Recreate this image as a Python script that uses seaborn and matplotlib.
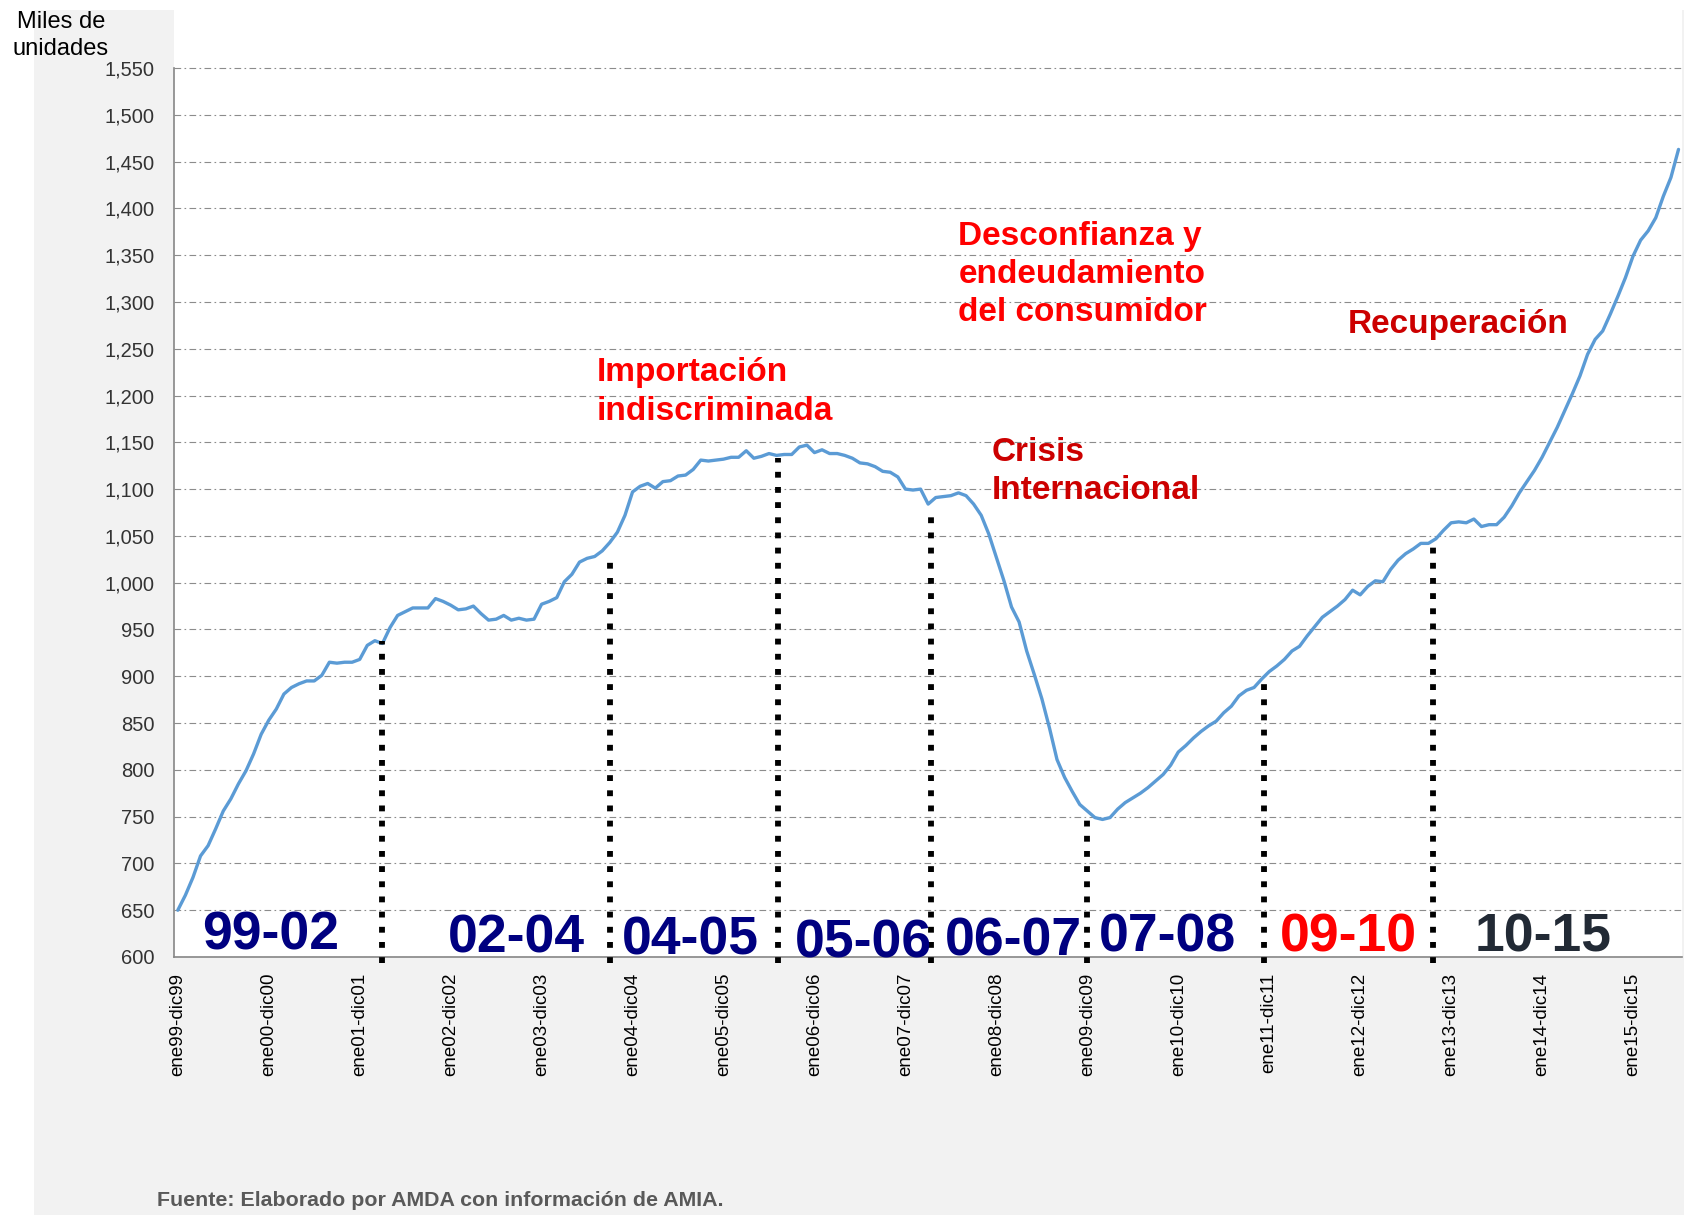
import matplotlib
matplotlib.use('Agg')
import matplotlib.pyplot as plt
import seaborn as sns
import pandas as pd
import numpy as np
from matplotlib.patches import Rectangle

# ventas anualizadas (miles de unidades), ventana movil de 12 meses
valores = [650, 666, 685, 708, 719, 737, 756, 769, 785, 799, 817, 838,
           853, 865, 881, 888, 892, 895, 895, 901, 915, 914, 915, 915,
           918, 933, 938, 935, 952, 965, 969, 973, 973, 973, 983, 980,
           976, 971, 972, 975, 967, 960, 961, 965, 960, 962, 960, 961,
           977, 980, 984, 1001, 1009, 1022, 1026, 1028, 1034, 1043, 1054, 1072,
           1097, 1103, 1106, 1101, 1108, 1109, 1114, 1115, 1121, 1131, 1130, 1131,
           1132, 1134, 1134, 1141, 1133, 1135, 1138, 1136, 1137, 1137, 1145, 1147,
           1139, 1142, 1138, 1138, 1136, 1133, 1128, 1127, 1124, 1119, 1118, 1113,
           1100, 1099, 1100, 1084, 1091, 1092, 1093, 1096, 1093, 1084, 1072, 1052,
           1027, 1002, 974, 958, 927, 902, 876, 845, 811, 792, 777, 763,
           756, 749, 747, 749, 758, 765, 770, 775, 781, 788, 795, 805,
           819, 826, 834, 841, 847, 852, 861, 868, 879, 885, 888, 897,
           905, 911, 918, 927, 932, 943, 953, 963, 969, 975, 982, 992,
           987, 996, 1002, 1001, 1014, 1024, 1031, 1036, 1042, 1042, 1047, 1056,
           1064, 1065, 1064, 1068, 1060, 1062, 1062, 1070, 1082, 1096, 1108, 1120,
           1134, 1150, 1166, 1184, 1202, 1221, 1244, 1260, 1269, 1287, 1306, 1326,
           1349, 1366, 1376, 1390, 1413, 1433, 1463]

etiquetas_x = ['ene99-dic99', 'ene00-dic00', 'ene01-dic01', 'ene02-dic02',
               'ene03-dic03', 'ene04-dic04', 'ene05-dic05', 'ene06-dic06',
               'ene07-dic07', 'ene08-dic08', 'ene09-dic09', 'ene10-dic10',
               'ene11-dic11', 'ene12-dic12', 'ene13-dic13', 'ene14-dic14',
               'ene15-dic15']
pos_x = [0, 12, 24, 36, 48, 60, 72, 84, 96, 108, 120, 132, 144, 156, 168, 180, 192]

# cortes punteados entre periodos
corte_x = [27, 57, 79.2, 99.4, 120, 143.3, 165.6]
corte_tope = [938, 1031, 1133, 1075, 754, 896, 1045]

# periodos
periodos = ['99-02', '02-04', '04-05', '05-06', '06-07', '07-08', '09-10', '10-15']
periodo_x = [12.2, 44.7, 67.6, 90.5, 110.2, 130.6, 154.5, 180.2]
periodo_y = [607.5, 605.3, 603.2, 600, 602, 605.7, 605.7, 605.7]
periodo_color = ['#000080'] * 6 + ['#ff0000', '#222a35']

# notas (y = linea base de la ultima linea)
notas = ['Importación\nindiscriminada', 'Desconfianza y\nendeudamiento\ndel consumidor',
         'Crisis\nInternacional', 'Recuperación']
nota_x = [55.3, 103.0, 107.4, 154.4]
nota_y = [1174.2, 1279.2, 1089.4, 1266.5]
nota_color = ['#ff0000', '#ff0000', '#cc0000', '#cc0000']

sns.set_style('white')
plt.rcParams['font.family'] = ['Liberation Sans', 'DejaVu Sans']

fig = plt.figure(figsize=(16.84, 12.15), dpi=100, facecolor='white')
fig.patches.append(Rectangle((34 / 1684, 0), 1650 / 1684, 1205 / 1215,
                             transform=fig.transFigure, facecolor='#f2f2f2',
                             edgecolor='none', zorder=-10))
ax = fig.add_axes([174 / 1684, 1 - 957 / 1215, 1508.3 / 1684, 947 / 1215])
ax.set_facecolor('white')

df = pd.DataFrame({'mes': np.arange(len(valores)), 'unidades': valores})
sns.lineplot(data=df, x='mes', y='unidades', color='#5b9bd5', lw=2.4, ax=ax, zorder=3)

ax.set_xlim(-0.5, len(valores) - 0.5)
ax.set_ylim(600, 600 + 947 / 0.93579)

yt = list(range(600, 1551, 50))
ax.set_yticks(yt)
ax.set_yticklabels([f'{v:,}' for v in yt])
ax.grid(axis='y', color='#8c8c8c', lw=0.8, ls=(0, (6, 3, 1.5, 3)))
ax.grid(axis='x', visible=False)

ax.set_xticks(pos_x)
ax.set_xticklabels(etiquetas_x, rotation=90, fontsize=13.5, color='black')
ax.set_xticks(np.arange(-0.5, len(valores), 1), minor=True)
ax.tick_params(axis='x', which='major', length=0, pad=11.5)
ax.tick_params(axis='x', which='minor', length=3.6, width=0.8, color='#868686')
ax.tick_params(axis='y', length=6, width=0.8, color='#868686', pad=8,
               labelsize=14.5, labelcolor='#333333')
ax.set_xlabel('')
ax.set_ylabel('')

for s in ['top', 'right']:
    ax.spines[s].set_visible(False)
for s in ['left', 'bottom']:
    ax.spines[s].set_color('#868686')
    ax.spines[s].set_linewidth(1.2)
ax.spines['left'].set_bounds(600, 1550)

ax.vlines(corte_x, 594, corte_tope, colors='black', lw=4.2,
          linestyles=(0, (1, 1.6)), zorder=4, clip_on=False)

for t, x, y, c in zip(periodos, periodo_x, periodo_y, periodo_color):
    ax.text(x, y, t, ha='center', va='baseline', fontsize=38.5,
            fontweight='bold', color=c, zorder=5)

for t, x, y, c in zip(notas, nota_x, nota_y, nota_color):
    ax.text(x, y, t, ha='left', va='baseline', fontsize=24, fontweight='bold',
            color=c, linespacing=1.3, zorder=5)

fig.text(61 / 1684, 1 - 55 / 1215, 'Miles de\nunidades', ha='center', va='baseline',
         fontsize=17, color='black', linespacing=1.3)
fig.text(157 / 1684, 1 - 1206 / 1215, 'Fuente: Elaborado por AMDA con información de AMIA.',
         ha='left', va='baseline', fontsize=15.4, fontweight='bold', color='#595959')

fig.savefig('out.png', dpi=100, facecolor=fig.get_facecolor())
